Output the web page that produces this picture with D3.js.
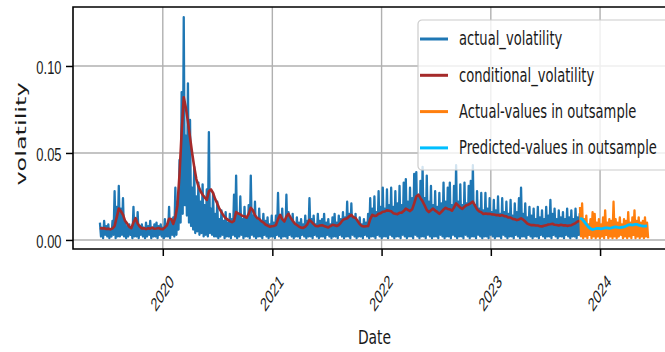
<!DOCTYPE html>
<html>
<head>
<meta charset="utf-8">
<script src="https://cdn.jsdelivr.net/npm/d3@7"></script>
<style>
  body { margin: 0; background: #fff; }
  svg { display: block; font-family: "DejaVu Sans", sans-serif; }
</style>
</head>
<body>
<div id="chart"></div>
<script>
// in-sample: one (high, low) pair of actual values per week, starting 2019-06-05
const inSampleStart = Date.UTC(2019, 5, 5);
const outSampleStart = Date.UTC(2023, 9, 26);

const actualVolatility = [
  0.010,0.002, 0.007,0.001, 0.011,0.003, 0.008,0.002, 0.009,0.001, 0.006,0.002, 0.011,0.003, 0.028,0.001, 0.019,0.002, 0.031,0.002,
  0.018,0.003, 0.024,0.002, 0.010,0.001, 0.008,0.002, 0.009,0.003, 0.007,0.001, 0.019,0.002, 0.012,0.002, 0.016,0.001, 0.008,0.003,
  0.009,0.002, 0.007,0.001, 0.010,0.002, 0.008,0.003, 0.011,0.001, 0.007,0.002, 0.009,0.002, 0.010,0.001, 0.008,0.003, 0.009,0.002,
  0.007,0.001, 0.012,0.002, 0.009,0.002, 0.019,0.001, 0.011,0.003, 0.013,0.002, 0.030,0.003, 0.022,0.006, 0.046,0.010, 0.085,0.015,
  0.128,0.020, 0.060,0.014, 0.090,0.010, 0.069,0.008, 0.030,0.006, 0.042,0.004, 0.025,0.005, 0.033,0.003, 0.022,0.004, 0.032,0.002,
  0.020,0.003, 0.029,0.002, 0.062,0.004, 0.018,0.003, 0.027,0.002, 0.015,0.002, 0.022,0.001, 0.012,0.002, 0.017,0.003, 0.011,0.001,
  0.016,0.002, 0.010,0.002, 0.015,0.001, 0.012,0.003, 0.026,0.002, 0.037,0.001, 0.014,0.002, 0.025,0.003, 0.012,0.001, 0.019,0.002,
  0.013,0.002, 0.020,0.001, 0.037,0.003, 0.014,0.002, 0.022,0.001, 0.012,0.002, 0.018,0.002, 0.010,0.001, 0.015,0.003, 0.011,0.002,
  0.013,0.001, 0.009,0.002, 0.014,0.002, 0.010,0.001, 0.014,0.003, 0.027,0.002, 0.012,0.001, 0.018,0.002, 0.011,0.002, 0.026,0.001,
  0.016,0.003, 0.012,0.002, 0.015,0.001, 0.009,0.002, 0.013,0.002, 0.010,0.001, 0.012,0.003, 0.009,0.002, 0.014,0.001, 0.011,0.002,
  0.024,0.002, 0.012,0.001, 0.014,0.003, 0.009,0.002, 0.015,0.001, 0.011,0.002, 0.012,0.002, 0.015,0.001, 0.010,0.003, 0.012,0.002,
  0.009,0.001, 0.013,0.002, 0.015,0.002, 0.010,0.001, 0.014,0.003, 0.012,0.002, 0.016,0.001, 0.013,0.002, 0.022,0.002, 0.015,0.001,
  0.021,0.003, 0.013,0.002, 0.015,0.001, 0.010,0.002, 0.013,0.002, 0.009,0.001, 0.012,0.003, 0.010,0.002, 0.015,0.001, 0.024,0.002,
  0.018,0.002, 0.025,0.001, 0.016,0.003, 0.028,0.002, 0.019,0.001, 0.030,0.002, 0.018,0.002, 0.029,0.001, 0.020,0.003, 0.030,0.002,
  0.019,0.001, 0.028,0.002, 0.021,0.002, 0.031,0.001, 0.020,0.003, 0.033,0.002, 0.035,0.001, 0.022,0.002, 0.030,0.002, 0.024,0.001,
  0.038,0.003, 0.039,0.002, 0.025,0.001, 0.034,0.002, 0.042,0.002, 0.024,0.001, 0.037,0.003, 0.022,0.002, 0.031,0.001, 0.020,0.002,
  0.028,0.002, 0.019,0.001, 0.027,0.003, 0.021,0.002, 0.033,0.001, 0.022,0.002, 0.030,0.002, 0.033,0.001, 0.020,0.003, 0.031,0.002,
  0.043,0.001, 0.022,0.002, 0.032,0.002, 0.020,0.001, 0.033,0.003, 0.021,0.002, 0.031,0.001, 0.034,0.002, 0.043,0.002, 0.020,0.001,
  0.028,0.003, 0.018,0.002, 0.027,0.001, 0.017,0.002, 0.027,0.002, 0.018,0.001, 0.024,0.003, 0.016,0.002, 0.023,0.001, 0.017,0.002,
  0.025,0.002, 0.015,0.001, 0.024,0.003, 0.016,0.002, 0.022,0.001, 0.015,0.002, 0.023,0.002, 0.014,0.001, 0.021,0.003, 0.016,0.002,
  0.024,0.001, 0.030,0.002, 0.015,0.002, 0.021,0.001, 0.013,0.003, 0.019,0.002, 0.014,0.001, 0.018,0.002, 0.012,0.002, 0.019,0.001,
  0.013,0.003, 0.017,0.002, 0.012,0.001, 0.019,0.002, 0.014,0.002, 0.023,0.001, 0.015,0.003, 0.018,0.002, 0.012,0.001, 0.017,0.002,
  0.013,0.002, 0.016,0.001, 0.012,0.003, 0.018,0.002, 0.013,0.001, 0.017,0.002, 0.012,0.002, 0.018,0.001, 0.013,0.003, 0.015,0.002
];

// weekly, same start as above
const conditionalVolatility = [
  0.0069, 0.0066, 0.0068, 0.0063, 0.0065, 0.0061, 0.0067, 0.0080, 0.0130, 0.0180,
  0.0165, 0.0145, 0.0110, 0.0094, 0.0075, 0.0068, 0.0100, 0.0125, 0.0095, 0.0077,
  0.0066, 0.0068, 0.0062, 0.0067, 0.0065, 0.0071, 0.0064, 0.0066, 0.0069, 0.0063,
  0.0062, 0.0072, 0.0084, 0.0122, 0.0120, 0.0092, 0.0130, 0.0200, 0.0380, 0.0620,
  0.0820, 0.0760, 0.0680, 0.0590, 0.0500, 0.0420, 0.0350, 0.0310, 0.0280, 0.0260,
  0.0245, 0.0230, 0.0280, 0.0290, 0.0270, 0.0235, 0.0210, 0.0180, 0.0160, 0.0140,
  0.0125, 0.0117, 0.0108, 0.0102, 0.0110, 0.0160, 0.0152, 0.0147, 0.0138, 0.0136,
  0.0128, 0.0150, 0.0185, 0.0170, 0.0142, 0.0126, 0.0121, 0.0108, 0.0101, 0.0089,
  0.0083, 0.0076, 0.0079, 0.0080, 0.0085, 0.0120, 0.0144, 0.0120, 0.0106, 0.0135,
  0.0150, 0.0128, 0.0111, 0.0094, 0.0086, 0.0077, 0.0071, 0.0069, 0.0076, 0.0090,
  0.0115, 0.0104, 0.0091, 0.0080, 0.0079, 0.0083, 0.0085, 0.0080, 0.0076, 0.0072,
  0.0080, 0.0087, 0.0084, 0.0080, 0.0086, 0.0100, 0.0115, 0.0121, 0.0125, 0.0136,
  0.0144, 0.0130, 0.0126, 0.0109, 0.0091, 0.0080, 0.0077, 0.0079, 0.0080, 0.0120,
  0.0144, 0.0138, 0.0140, 0.0151, 0.0154, 0.0162, 0.0164, 0.0170, 0.0168, 0.0165,
  0.0154, 0.0151, 0.0148, 0.0156, 0.0157, 0.0166, 0.0180, 0.0173, 0.0166, 0.0176,
  0.0210, 0.0250, 0.0260, 0.0240, 0.0222, 0.0198, 0.0172, 0.0160, 0.0171, 0.0180,
  0.0169, 0.0161, 0.0150, 0.0162, 0.0175, 0.0185, 0.0178, 0.0176, 0.0168, 0.0186,
  0.0210, 0.0198, 0.0186, 0.0178, 0.0191, 0.0200, 0.0204, 0.0212, 0.0220, 0.0198,
  0.0176, 0.0164, 0.0159, 0.0149, 0.0152, 0.0150, 0.0151, 0.0147, 0.0146, 0.0143,
  0.0143, 0.0139, 0.0143, 0.0137, 0.0136, 0.0129, 0.0129, 0.0121, 0.0119, 0.0114,
  0.0118, 0.0124, 0.0117, 0.0106, 0.0094, 0.0089, 0.0085, 0.0086, 0.0083, 0.0083,
  0.0079, 0.0078, 0.0081, 0.0084, 0.0089, 0.0090, 0.0093, 0.0087, 0.0086, 0.0083,
  0.0087, 0.0084, 0.0084, 0.0081, 0.0083, 0.0085, 0.0091, 0.0097, 0.0106, 0.0110
];

// out-of-sample: (high, low) pair per week from 2023-10-26
const outsampleActual = [
  0.019,0.002, 0.021,0.001, 0.012,0.002, 0.014,0.001, 0.009,0.003, 0.012,0.001, 0.016,0.002, 0.015,0.001, 0.010,0.002, 0.012,0.001,
  0.009,0.002, 0.013,0.001, 0.017,0.003, 0.010,0.001, 0.012,0.002, 0.011,0.001, 0.022,0.002, 0.012,0.001, 0.010,0.002, 0.013,0.003,
  0.009,0.001, 0.012,0.002, 0.011,0.001, 0.016,0.002, 0.010,0.001, 0.013,0.003, 0.017,0.001, 0.011,0.002, 0.013,0.001, 0.010,0.002,
  0.011,0.001, 0.013,0.002, 0.010,0.001
];

// weekly predictions from 2023-10-26
const outsamplePredicted = [
  0.0125, 0.0120, 0.0105, 0.0090, 0.0075, 0.0065, 0.0060, 0.0063, 0.0066, 0.0067,
  0.0064, 0.0066, 0.0069, 0.0070, 0.0067, 0.0069, 0.0073, 0.0075, 0.0072, 0.0071,
  0.0073, 0.0075, 0.0080, 0.0086, 0.0088, 0.0085, 0.0089, 0.0090, 0.0085, 0.0082,
  0.0080, 0.0079, 0.0081
];

const yTicks = [0.00, 0.05, 0.10];
const xTicks = [2020, 2021, 2022, 2023, 2024];
const legendLabels = ['actual_volatility', 'conditional_volatility', 'Actual-values in outsample', 'Predicted-values in outsample'];
const legendColors = ['#1f77b4', '#a52a2a', '#ff7f0e', '#00bfff'];

const W = 665, H = 352;
const margin = {top: 7, left: 73, bottom: 249, right: 674};
const DAY = 864e5;

const x = d3.scaleUtc()
  .domain([new Date(Date.UTC(2019, 2, 7)), new Date(Date.UTC(2024, 8, 4))])
  .range([margin.left, margin.right]);
const y = d3.scaleLinear().domain([-0.0052, 0.1339]).range([margin.bottom, margin.top]);

const svg = d3.select('#chart').append('svg')
  .attr('width', W)
  .attr('height', H);

// grid
svg.append('g').selectAll('line.hg')
  .data(yTicks).enter().append('line')
  .attr('x1', margin.left).attr('x2', W)
  .attr('y1', d => y(d)).attr('y2', d => y(d))
  .attr('stroke', '#b0b0b0').attr('stroke-width', 1.4);
svg.append('g').selectAll('line.vg')
  .data(xTicks).enter().append('line')
  .attr('x1', d => x(new Date(Date.UTC(d, 0, 1)))).attr('x2', d => x(new Date(Date.UTC(d, 0, 1))))
  .attr('y1', margin.top).attr('y2', margin.bottom)
  .attr('stroke', '#b0b0b0').attr('stroke-width', 1.4);

const halfWeek = (start) => (d, i) => x(new Date(start + i * 3.5 * DAY));
const week = (start) => (d, i) => x(new Date(start + i * 7 * DAY));

function drawLine(data, xf, color, width) {
  svg.append('path')
    .datum(data)
    .attr('fill', 'none')
    .attr('stroke', color)
    .attr('stroke-width', width)
    .attr('stroke-linejoin', 'round')
    .attr('d', d3.line().x(xf).y(d => y(d)));
}

drawLine(actualVolatility, halfWeek(inSampleStart), legendColors[0], 2.3);
drawLine(conditionalVolatility, week(inSampleStart), legendColors[1], 2.6);
drawLine(outsampleActual, halfWeek(outSampleStart), legendColors[2], 2.3);
drawLine(outsamplePredicted, week(outSampleStart), legendColors[3], 2.8);

// axes
const yAxis = d3.axisLeft(y).tickValues(yTicks).tickSize(7).tickFormat(d3.format('.2f'));
const gy = svg.append('g')
  .attr('transform', `translate(${margin.left},0)`)
  .call(yAxis);
gy.select('.domain').remove();
gy.selectAll('.tick line').attr('stroke', '#000').attr('stroke-width', 1.5);
gy.selectAll('.tick text')
  .attr('x', 0).attr('dy', '0.42em')
  .attr('fill', '#1a1a1a')
  .style('font-size', '19px')
  .attr('transform', 'translate(-11.5,0) scale(0.68,1)');

const xAxis = d3.axisBottom(x)
  .tickValues(xTicks.map(d => new Date(Date.UTC(d, 0, 1))))
  .tickSize(7)
  .tickFormat(d3.utcFormat('%Y'));
const gx = svg.append('g')
  .attr('transform', `translate(0,${margin.bottom})`)
  .call(xAxis);
gx.select('.domain').remove();
gx.selectAll('.tick line').attr('stroke', '#000').attr('stroke-width', 1.5);
gx.selectAll('.tick text')
  .attr('y', 0).attr('dy', null)
  .attr('dominant-baseline', 'central')
  .attr('fill', '#1a1a1a')
  .style('font-size', '19px')
  .attr('transform', 'translate(-1,44) scale(0.64,1) rotate(-45)');

// spines
svg.append('path')
  .attr('d', `M${W},${margin.top}H${margin.left}V${margin.bottom}H${W}`)
  .attr('fill', 'none').attr('stroke', '#000').attr('stroke-width', 1.6);

// axis labels
svg.append('text')
  .attr('transform', 'translate(21.5,134) scale(0.6,1) rotate(-90)')
  .attr('text-anchor', 'middle').attr('dominant-baseline', 'central')
  .style('font-size', '24px').attr('fill', '#1a1a1a')
  .text('volatility');
svg.append('text')
  .attr('transform', 'translate(374.5,344) scale(0.73,1)')
  .attr('text-anchor', 'middle')
  .style('font-size', '19px').attr('fill', '#1a1a1a')
  .text('Date');

// legend
const legend = svg.append('g').attr('transform', 'translate(418,20)');
legend.append('rect')
  .attr('width', 270).attr('height', 150).attr('rx', 4)
  .attr('fill', '#fff').attr('fill-opacity', 0.8)
  .attr('stroke', '#cccccc').attr('stroke-width', 1.2);
const rows = legend.selectAll('g.row')
  .data(legendLabels).enter().append('g')
  .attr('transform', (d, i) => `translate(0,${19 + i * 36.3})`);
rows.append('line')
  .attr('x1', 2).attr('x2', 30)
  .attr('stroke', (d, i) => legendColors[i]).attr('stroke-width', 3);
rows.append('text')
  .attr('transform', 'translate(41,0) scale(0.69,1)')
  .attr('dominant-baseline', 'central')
  .style('font-size', '19px').attr('fill', '#1a1a1a')
  .text(d => d);
</script>
</body>
</html>
